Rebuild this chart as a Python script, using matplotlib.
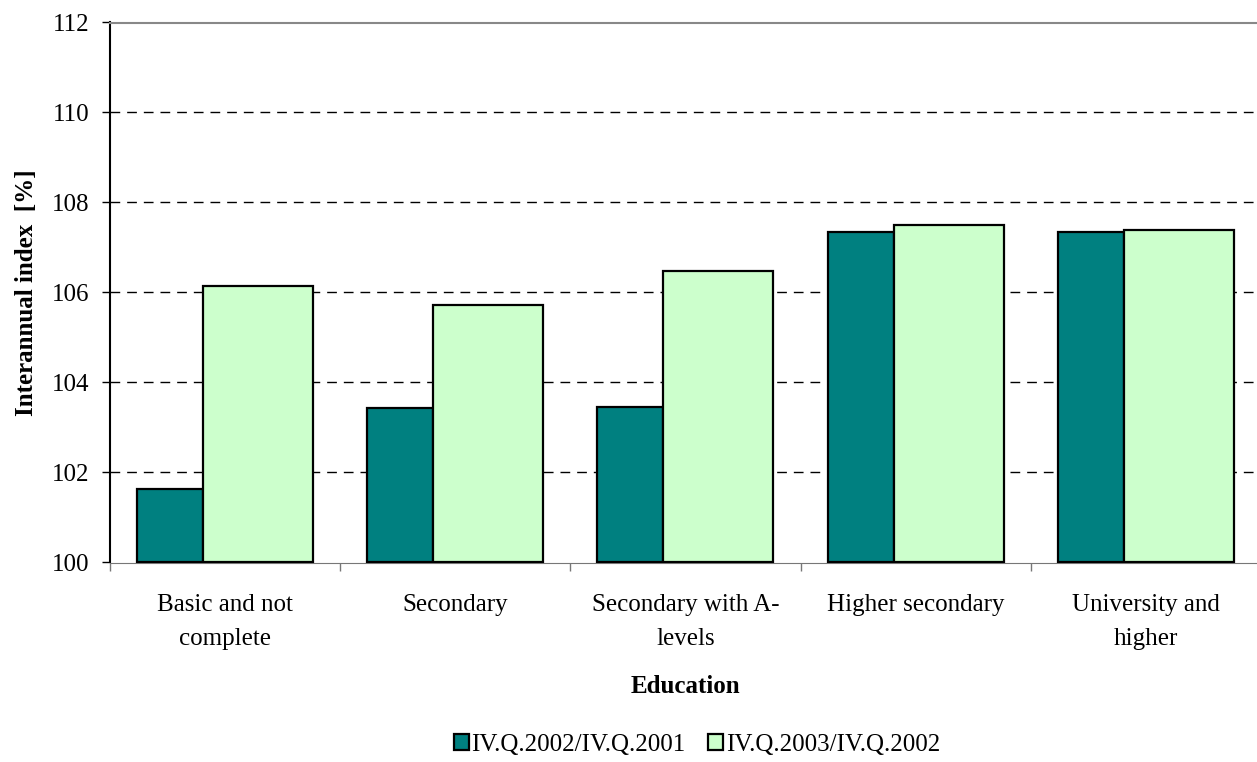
import numpy as np
import matplotlib.pyplot as plt

plt.rcParams["font.family"] = ["Liberation Serif", "DejaVu Serif"]

# data
categories = ["Basic and not\ncomplete", "Secondary", "Secondary with A-\nlevels",
              "Higher secondary", "University and\nhigher"]
idx_2002 = [101.63, 103.44, 103.46, 107.35, 107.35]
idx_2003 = [106.14, 105.72, 106.48, 107.50, 107.38]
series_names = ["IV.Q.2002/IV.Q.2001", "IV.Q.2003/IV.Q.2002"]

fs = 18

fig = plt.figure(figsize=(12.57, 7.62), dpi=100)
ax = fig.add_axes([110 / 1257, 199.5 / 762, 1151 / 1257, 540 / 762])

x = np.arange(len(categories)) + 0.5
w1, w2 = 0.287, 0.478
ax.bar(x - 0.383, np.array(idx_2002) - 100, bottom=100, width=w1, align="edge",
       color="#008080", edgecolor="black", linewidth=1.6, label=series_names[0], zorder=3)
ax.bar(x - 0.096, np.array(idx_2003) - 100, bottom=100, width=w2, align="edge",
       color="#CCFFCC", edgecolor="black", linewidth=1.6, label=series_names[1], zorder=3)

ax.set_xlim(0, len(categories))
ax.set_ylim(100, 112)
ax.set_yticks(np.arange(100, 113, 2))
ax.set_xticks(np.arange(len(categories) + 1))
ax.set_xticklabels([])
ax.set_xticks(x, minor=True)
ax.set_xticklabels(categories, minor=True, fontsize=fs, linespacing=1.66)
ax.tick_params(axis="x", which="minor", length=0, pad=23)
ax.tick_params(axis="x", which="major", length=6, width=1, color="#777777", direction="out")
ax.tick_params(axis="y", length=6, width=1, labelsize=fs, pad=9)

for yv in range(102, 112, 2):
    ax.axhline(yv, color="black", linewidth=1, dashes=(7, 5), zorder=1)

ax.spines["left"].set_color("black")
ax.spines["left"].set_linewidth(1.5)
ax.spines["bottom"].set_color("#777777")
ax.spines["top"].set_color("#888888")
ax.spines["top"].set_linewidth(1.5)
ax.spines["right"].set_visible(False)

ax.set_xlabel("Education", fontsize=fs, fontweight="bold", labelpad=18)
ax.set_ylabel("Interannual index  [%]", fontsize=fs, fontweight="bold")
ax.yaxis.set_label_coords(-0.0625, 0.5)

fig.legend(loc="center", bbox_to_anchor=(697 / 1257, 1 - 745 / 762), ncol=2,
           frameon=False, fontsize=fs, handlelength=0.6, handleheight=0.6,
           handletextpad=0.12, columnspacing=0.9)

plt.savefig("out.png", dpi=100)
plt.close()
